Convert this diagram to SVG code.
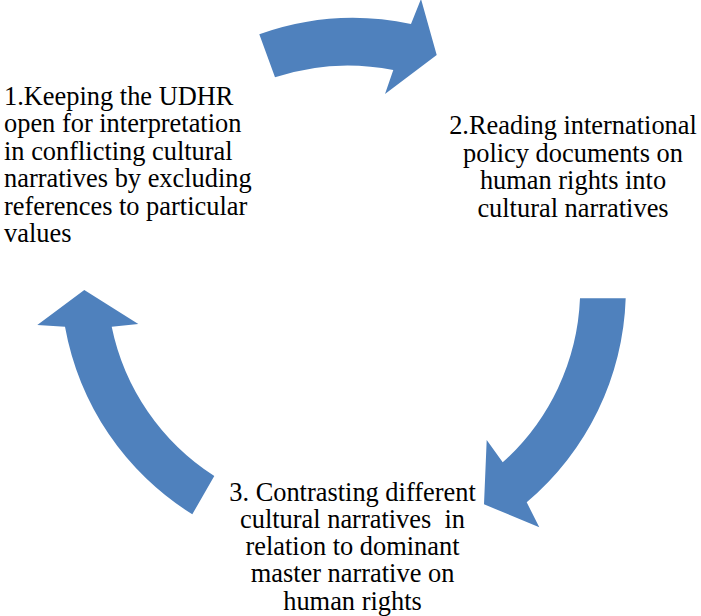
<svg xmlns="http://www.w3.org/2000/svg" width="701" height="616" viewBox="0 0 701 616">
<style>
.lbl{font-family:'Liberation Serif','Times New Roman',Times,'DejaVu Serif',serif;font-size:26.4px;fill:#000;white-space:pre}
.mid{text-anchor:middle}
.arrow{fill:#4F81BD;stroke:none}
</style>
<rect width="701" height="616" fill="#fff"/>
<g id="connectors">
<path class="arrow" d="M259.3,34.3 A279,279 0 0 1 411,24 L421,-1 L436.7,55 L385,94 L393.3,70 A233,233 0 0 0 275,77.3 Z"/>
<path class="arrow" d="M580,298.3 L625.7,298.3 A279,279 0 0 1 526.7,502.3 L539.3,527.3 L484,504.3 L486.7,440 L502.7,462.3 A233,233 0 0 0 580,298.3 Z"/>
<path class="arrow" d="M214.3,476 L192.3,514.3 A279,279 0 0 1 65,326.7 L37.3,325 L84.3,290 L138.3,324 L111.7,326.7 A233,233 0 0 0 214.3,476 Z"/>
</g>
<g id="node1" font-family="Liberation Serif, serif">
<text class="lbl" x="4" y="105">1.Keeping the UDHR</text>
<text class="lbl" x="4" y="132.4">open for interpretation</text>
<text class="lbl" x="4" y="159.8">in conflicting cultural</text>
<text class="lbl" x="4" y="187.2">narratives by excluding</text>
<text class="lbl" x="4" y="214.6">references to particular</text>
<text class="lbl" x="4" y="242">values</text>
</g>
<g id="node2">
<text class="lbl mid" x="573" y="134.3">2.Reading international</text>
<text class="lbl mid" x="573" y="161.7">policy documents on</text>
<text class="lbl mid" x="573" y="189.1">human rights into</text>
<text class="lbl mid" x="573" y="216.5">cultural narratives</text>
</g>
<g id="node3">
<text class="lbl mid" x="352.5" y="500.5">3. Contrasting different</text>
<text class="lbl mid" x="352.5" y="527.8">cultural narratives  in</text>
<text class="lbl mid" x="352.5" y="555.1">relation to dominant</text>
<text class="lbl mid" x="352.5" y="582.4">master narrative on</text>
<text class="lbl mid" x="352.5" y="609.7">human rights</text>
</g>
</svg>
